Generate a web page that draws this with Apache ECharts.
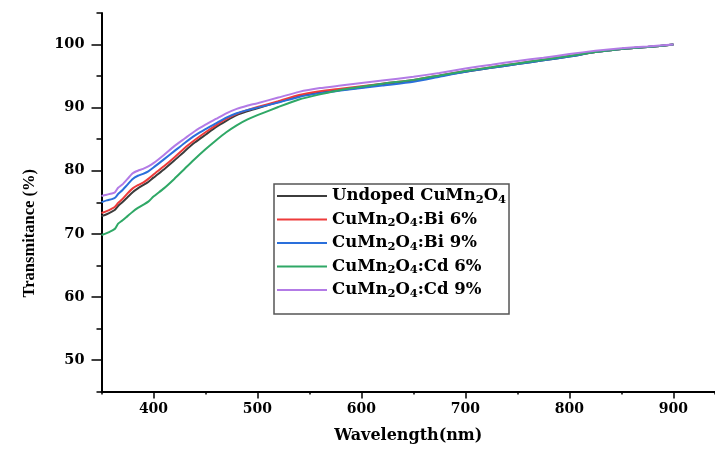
<!DOCTYPE html>
<html>
<head>
<meta charset="utf-8">
<style>
  html, body { margin: 0; padding: 0; background: #fff; }
  #main { width: 715px; height: 450px; }
</style>
</head>
<body>
<div id="main"></div>
<script src="https://cdn.jsdelivr.net/npm/echarts@6/dist/echarts.min.js"></script>
<script type="text/javascript">
    // wavelength (nm)
    var wavelength = [350,355,360,363,366,370,375,380,385,390,395,400,410,420,430,440,450,460,470,480,490,500,520,540,560,580,600,620,650,675,700,725,750,775,800,825,850,875,900];
    // transmittance (%)
    var undoped = [72.8,73.1,73.5,73.8,74.4,75.0,75.8,76.6,77.2,77.7,78.2,78.9,80.2,81.6,83.1,84.5,85.7,86.9,87.9,88.8,89.4,89.9,90.9,91.8,92.4,92.8,93.2,93.7,94.3,95.0,95.7,96.3,96.9,97.5,98.1,98.8,99.3,99.6,100.0];
    var bi6 = [73.3,73.6,74.0,74.3,74.9,75.5,76.4,77.2,77.7,78.1,78.7,79.4,80.7,82.1,83.6,84.9,86.1,87.2,88.2,89.0,89.6,90.1,91.0,92.0,92.6,93.0,93.4,93.8,94.4,95.1,95.8,96.4,97.0,97.6,98.2,98.8,99.3,99.6,100.0];
    var bi9 = [75.0,75.3,75.5,75.7,76.3,76.9,77.8,78.7,79.2,79.5,79.9,80.5,81.8,83.1,84.4,85.6,86.6,87.5,88.4,89.1,89.6,90.0,90.8,91.7,92.3,92.7,93.1,93.5,94.1,94.9,95.7,96.3,96.9,97.5,98.1,98.8,99.3,99.6,100.0];
    var cd6 = [69.8,70.1,70.5,70.8,71.6,72.1,72.8,73.5,74.1,74.6,75.1,75.9,77.2,78.7,80.3,81.9,83.4,84.8,86.1,87.2,88.1,88.8,90.1,91.3,92.1,92.8,93.3,93.8,94.4,95.1,95.8,96.4,97.0,97.6,98.2,98.8,99.3,99.6,100.0];
    var cd9 = [76.0,76.2,76.4,76.6,77.3,77.8,78.7,79.6,80.0,80.3,80.7,81.2,82.5,83.9,85.1,86.3,87.3,88.2,89.1,89.8,90.3,90.7,91.6,92.5,93.1,93.5,93.9,94.3,94.9,95.5,96.2,96.8,97.4,97.9,98.5,99.0,99.4,99.7,100.0];

    var seriesNames = ['Undoped CuMn2O4', 'CuMn2O4:Bi 6%', 'CuMn2O4:Bi 9%', 'CuMn2O4:Cd 6%', 'CuMn2O4:Cd 9%'];
    var seriesData = [undoped, bi6, bi9, cd6, cd9];
    var colors = ['#3c3c3c', '#ee3b3b', '#2a6fdb', '#2fa866', '#b37be6'];

    var xLabels = [400, 500, 600, 700, 800, 900];
    var yLabels = [50, 60, 70, 80, 90, 100];

    var font = 'DejaVu Serif';

    function pairs(ys) {
        var out = [];
        for (var i = 0; i < wavelength.length; i++) {
            out.push([wavelength[i], ys[i]]);
        }
        return out;
    }

    var series = [];
    for (var i = 0; i < seriesNames.length; i++) {
        series.push({
            name: seriesNames[i],
            type: 'line',
            data: pairs(seriesData[i]),
            showSymbol: false,
            smooth: 0.2,
            lineStyle: {width: 2, color: colors[i]},
            itemStyle: {color: colors[i]}
        });
    }

    var myChart = echarts.init(document.getElementById('main'));
    var option = {
        animation: false,
        backgroundColor: '#fff',
        grid: {left: 101.5, right: 0, top: 13, bottom: 58.5, containLabel: false, outerBoundsMode: 'none'},
        legend: {
            orient: 'vertical',
            left: 274,
            top: 184,
            padding: [2, 3, 14, 3],
            itemGap: 3.5,
            itemWidth: 50,
            itemHeight: 2,
            itemTextGap: 6,
            icon: 'rect',
            borderColor: '#555',
            borderWidth: 1.5,
            backgroundColor: '#fff',
            data: seriesNames,
            formatter: function (name) {
                return name.replace('Mn2O4', 'Mn{s|2}O{s|4}');
            },
            textStyle: {
                color: '#000',
                fontFamily: font,
                fontWeight: 'bold',
                fontSize: 16.5,
                lineHeight: 20,
                rich: {
                    s: {fontFamily: font, fontWeight: 'bold', fontSize: 11.5, lineHeight: 10, verticalAlign: 'bottom', color: '#000'}
                }
            }
        },
        xAxis: [{
            type: 'value',
            min: 350,
            max: 940,
            interval: 50,
            name: 'Wavelength(nm)',
            nameLocation: 'middle',
            nameGap: 36,
            nameTextStyle: {color: '#000', fontFamily: font, fontWeight: 'bold', fontSize: 16},
            axisLine: {lineStyle: {color: '#000', width: 2}},
            axisTick: {length: 3, lineStyle: {color: '#000', width: 1.5}},
            axisLabel: {
                margin: 11,
                color: '#000',
                fontFamily: font,
                fontWeight: 'bold',
                fontSize: 14,
                formatter: function (v) { return xLabels.indexOf(v) >= 0 ? String(v) : ''; }
            },
            splitLine: {show: false}
        }, {
            type: 'value',
            position: 'bottom',
            min: 350,
            max: 940,
            interval: 50,
            axisLine: {show: false},
            axisTick: {length: 7, customValues: xLabels, lineStyle: {color: '#000', width: 1.5}},
            axisLabel: {show: false},
            splitLine: {show: false}
        }],
        yAxis: [{
            type: 'value',
            min: 45,
            max: 105,
            interval: 5,
            name: 'Transmitance (%)',
            nameLocation: 'middle',
            nameRotate: 90,
            nameGap: 63,
            nameTextStyle: {color: '#000', fontFamily: 'Liberation Serif', fontWeight: 'bold', fontSize: 16.5, padding: [0, 62, 0, 0]},
            axisLine: {lineStyle: {color: '#000', width: 2}},
            axisTick: {length: 5, lineStyle: {color: '#000', width: 1.5}},
            axisLabel: {
                margin: 17,
                color: '#000',
                fontFamily: font,
                fontWeight: 'bold',
                fontSize: 14.5,
                formatter: function (v) { return yLabels.indexOf(v) >= 0 ? String(v) : ''; }
            },
            splitLine: {show: false}
        }, {
            type: 'value',
            position: 'left',
            min: 45,
            max: 105,
            interval: 5,
            axisLine: {show: false},
            axisTick: {show: true, length: 10, customValues: yLabels, lineStyle: {color: '#000', width: 1.5}},
            axisLabel: {show: false},
            splitLine: {show: false}
        }],
        series: series
    };
    myChart.setOption(option);
</script>
</body>
</html>
